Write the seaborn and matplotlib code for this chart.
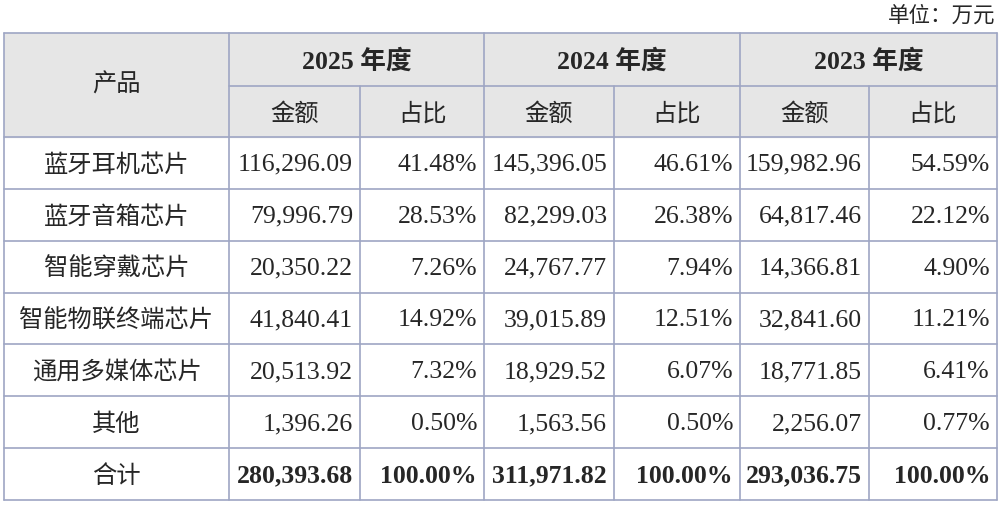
import matplotlib
matplotlib.use("Agg")
import matplotlib.pyplot as plt
import seaborn as sns

# 数据
products = ["蓝牙耳机芯片", "蓝牙音箱芯片", "智能穿戴芯片", "智能物联终端芯片", "通用多媒体芯片", "其他", "合计"]
years = ["2025 年度", "2024 年度", "2023 年度"]
amt_2025 = ["116,296.09", "79,996.79", "20,350.22", "41,840.41", "20,513.92", "1,396.26", "280,393.68"]
pct_2025 = ["41.48%", "28.53%", "7.26%", "14.92%", "7.32%", "0.50%", "100.00%"]
amt_2024 = ["145,396.05", "82,299.03", "24,767.77", "39,015.89", "18,929.52", "1,563.56", "311,971.82"]
pct_2024 = ["46.61%", "26.38%", "7.94%", "12.51%", "6.07%", "0.50%", "100.00%"]
amt_2023 = ["159,982.96", "64,817.46", "14,366.81", "32,841.60", "18,771.85", "2,256.07", "293,036.75"]
pct_2023 = ["54.59%", "22.12%", "4.90%", "11.21%", "6.41%", "0.77%", "100.00%"]

sns.set_theme(style="white")
plt.rcParams['font.family'] = ['Liberation Serif', 'Noto Sans CJK SC', 'DejaVu Sans']

W, H = 1000, 508
fig = plt.figure(figsize=(10, 5.08), dpi=100)
ax = fig.add_axes([0, 0, 1, 1])
ax.set_xlim(0, W)
ax.set_ylim(H, 0)
ax.axis("off")

xs = [4, 229, 360, 484, 614, 740, 869, 997]
y_top, y_h1, y_h2, y_bot = 33, 86, 137, 500
rh = (y_bot - y_h2) / 7
line_c = "#9ea6c4"
bg = "#e6e6e6"
fs_cn = 17.5
fs_num = 18.5
cn = ['Noto Sans CJK SC']
dy = 2

# 表头背景
ax.add_patch(plt.Rectangle((xs[0], y_top), xs[-1] - xs[0], y_h2 - y_top, color=bg, zorder=0))

ax.text(995, 16, "单位：万元", ha="right", va="center", fontsize=15.5, family=cn)
ax.text((xs[0] + xs[1]) / 2, (y_top + y_h2) / 2, "产品", ha="center", va="center",
        fontsize=fs_cn, family=cn)
for i, yr in enumerate(years):
    a, b = xs[1 + 2 * i], xs[3 + 2 * i]
    ax.text((a + b) / 2, (y_top + y_h1) / 2 + dy, yr, ha="center", va="center", fontsize=fs_num, weight="bold")
    ax.text((xs[1 + 2 * i] + xs[2 + 2 * i]) / 2, (y_h1 + y_h2) / 2 + dy, "金额", ha="center", va="center",
            fontsize=fs_cn, family=cn)
    ax.text((xs[2 + 2 * i] + xs[3 + 2 * i]) / 2, (y_h1 + y_h2) / 2 + dy, "占比", ha="center", va="center",
            fontsize=fs_cn, family=cn)

cols = [amt_2025, pct_2025, amt_2024, pct_2024, amt_2023, pct_2023]
for r, p in enumerate(products):
    yc = y_h2 + rh * (r + 0.5) + dy
    bold = "bold" if r == len(products) - 1 else "normal"
    ax.text((xs[0] + xs[1]) / 2, yc, p, ha="center", va="center", fontsize=fs_cn, family=cn)
    for c, col in enumerate(cols):
        ax.text(xs[c + 2] - 7, yc, col[r], ha="right", va="center", fontsize=fs_num, weight=bold)

# 网格线
lw = 1.2
for y in [y_top, y_h2, y_bot] + [y_h2 + rh * k for k in range(1, 7)]:
    ax.plot([xs[0], xs[-1]], [y, y], color=line_c, lw=lw)
ax.plot([xs[1], xs[-1]], [y_h1, y_h1], color=line_c, lw=lw)
for i, x in enumerate(xs):
    y0 = y_top if i in (0, 1, 3, 5, 7) else y_h1
    ax.plot([x, x], [y0, y_bot], color=line_c, lw=lw)

fig.savefig("out.png", dpi=100)
